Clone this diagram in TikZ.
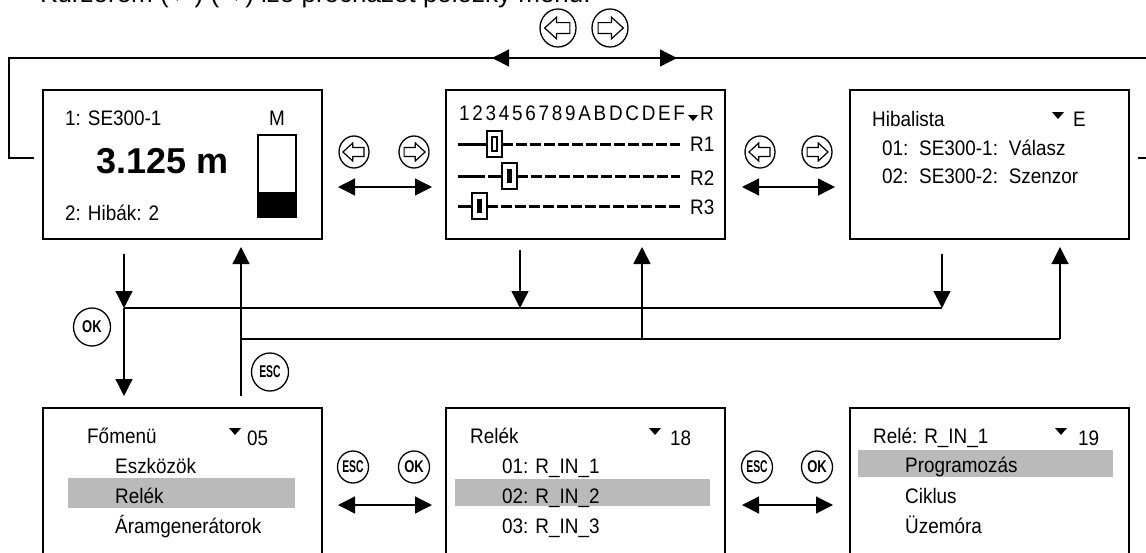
\documentclass[tikz,border=0pt]{standalone}
\usepackage{fontspec}
\setmainfont{Liberation Sans}[FakeStretch=0.9]
\newfontfamily\widesans{Liberation Sans}
\usepackage{graphicx}
\usetikzlibrary{arrows.meta,shapes.geometric}
\begin{document}
\begin{tikzpicture}[x=1pt,y=-1pt,
  screen/.style={draw, line width=2pt, inner sep=0, minimum width=279pt, minimum height=149pt, anchor=north west},
  conn/.style={line width=1.3pt},
  arr/.style={conn, -{Triangle[width=17pt,length=17pt]}},
  darr/.style={conn, {Triangle[width=17pt,length=17pt]}-{Triangle[width=17pt,length=17pt]}},
  txt/.style={anchor=base west, inner sep=0, font=\fontsize{21}{23}\selectfont},
  btn/.style={draw, ellipse, line width=1.3pt, minimum width=#1, minimum height=#1+1pt, inner sep=0, font=\fontsize{17}{17}\selectfont\bfseries},
  hl/.style={fill=black!27, draw=none},
  rail/.style={line width=3pt},
  knob/.style={line width=1.3pt, fill=white},
  pics/leftkey/.style={code={
    \draw[line width=1.3pt] (0,0) ellipse [x radius=#1, y radius=#1+1];
    \draw[line width=1.2pt, line join=miter] (-0.74*#1,0) -- (-0.08*#1,-0.6*#1) -- (-0.08*#1,-0.3*#1) -- (0.66*#1,-0.3*#1) -- (0.66*#1,0.3*#1) -- (-0.08*#1,0.3*#1) -- (-0.08*#1,0.6*#1) -- cycle;
  }},
  pics/rightkey/.style={code={
    \draw[line width=1.3pt] (0,0) ellipse [x radius=#1, y radius=#1+1];
    \draw[line width=1.2pt, line join=miter] (0.74*#1,0) -- (0.08*#1,-0.6*#1) -- (0.08*#1,-0.3*#1) -- (-0.66*#1,-0.3*#1) -- (-0.66*#1,0.3*#1) -- (0.08*#1,0.3*#1) -- (0.08*#1,0.6*#1) -- cycle;
  }}
]
\useasboundingbox (0,0) rectangle (1146,552);
\clip (0,0) rectangle (1146,552);

% clipped header line
\node[anchor=base west, inner sep=0, font=\widesans\fontsize{26}{28}\selectfont] (hdr) at (40,2) {Kurzorem (←) (→) lze procházet položky menu.};

% screens
\node[screen] (b1) at (42,89) {};
\node[screen] (b2) at (445,89) {};
\node[screen] (b3) at (849,89) {};
\node[screen, minimum height=170pt] (b4) at (42,407) {};
\node[screen, minimum height=170pt] (b5) at (445,407) {};
\node[screen, minimum height=170pt] (b6) at (849,407) {};

% ---- screen 1
\node[txt] (t11) at (65,125) {1: SE300-1};
\node[txt] (t12) at (269,125) {M};
\node[txt, font=\widesans\fontsize{36}{38}\selectfont\bfseries] (t13) at (96,173) {3.125 m};
\node[txt] (t14) at (65,220) {2: Hibák: 2};
\draw[line width=1.3pt] (258,135) rectangle (296,217);
\fill (258,192) rectangle (296,217);

% ---- screen 2
\node[txt, font=\fontsize{21}{23}\selectfont\addfontfeature{LetterSpace=13}] (t21) at (459,120) {123456789ABDCDEF};
\fill (688,115) -- (698,115) -- (693,121) -- cycle;
\node[txt] (t22) at (700,120) {R};
\node[txt] (r1) at (690,151) {R1};
\node[txt] (r2) at (690,185) {R2};
\node[txt] (r3) at (690,214) {R3};
% R1
\draw[rail] (458,144) -- (487,144);
\draw[rail, dash pattern=on 11pt off 3pt] (502,144) -- (680,144);
\draw[knob] (487,131) rectangle (502,157);
\draw[line width=1.1pt] (492,137) rectangle (497,151);
% R2
\draw[rail, dash pattern=on 27pt off 3pt] (458,176) -- (502,176);
\draw[rail, dash pattern=on 11pt off 3pt] (517,176) -- (680,176);
\draw[knob] (502,163) rectangle (517,189);
\fill (507,169) rectangle (512,183);
% R3
\draw[rail] (458,206) -- (472,206);
\draw[rail, dash pattern=on 11pt off 3pt] (487,206) -- (680,206);
\draw[knob] (472,193) rectangle (487,219);
\fill (477,199) rectangle (482,213);

% ---- screen 3
\node[txt] (t31) at (872,126) {Hibalista};
\fill (1052,112) -- (1064,112) -- (1058,119) -- cycle;
\node[txt] (t32) at (1073,126) {E};
\node[txt] (t33) at (882,155) {\spaceskip=9pt 01: SE300-1: Válasz};
\node[txt] (t34) at (882,183) {\spaceskip=9pt 02: SE300-2: Szenzor};

% ---- screen 4
\fill[hl] (68,478) rectangle (295,508);
\node[txt] (t41) at (87,443) {Főmenü};
\fill (229,428) -- (241,428) -- (235,435) -- cycle;
\node[txt] (t42) at (247,445) {05};
\node[txt] (t43) at (115,473) {Eszközök};
\node[txt] (t44) at (115,503) {Relék};
\node[txt] (t45) at (115,533) {Áramgenerátorok};

% ---- screen 5
\fill[hl] (455,479) rectangle (710,506);
\node[txt] (t51) at (470,443) {Relék};
\fill (649,428) -- (661,428) -- (655,435) -- cycle;
\node[txt] (t52) at (670,445) {18};
\node[txt] (t53) at (502,473) {01:\hspace{7pt}R\_IN\_1};
\node[txt] (t54) at (502,503) {02:\hspace{7pt}R\_IN\_2};
\node[txt] (t55) at (502,533) {03:\hspace{7pt}R\_IN\_3};

% ---- screen 6
\fill[hl] (858,450) rectangle (1113,477);
\node[txt] (t61) at (873,443) {Relé: R\_IN\_1};
\fill (1055,428) -- (1067,428) -- (1061,435) -- cycle;
\node[txt] (t62) at (1078,445) {19};
\node[txt] (t63) at (905,472) {Programozás};
\node[txt] (t64) at (905,503) {Ciklus};
\node[txt] (t65) at (905,533) {Üzemóra};

% ---- top loop
\coordinate (lpA) at (34,158);
\coordinate (lpB) at (9,158);
\coordinate (lpC) at (9,58);
\coordinate (lpD) at (1150,58);
\coordinate (lpE) at (1138,158);
\coordinate (lpF) at (1150,158);
\coordinate (taL) at (492,58);
\coordinate (taR) at (677,58);
\draw[conn] (lpA) -- (lpB) -- (lpC) -- (lpD);
\draw[conn] (lpE) -- (lpF);
\draw[darr] (taL) -- (taR);
\pic at (558,28) {leftkey=18};
\pic at (610,28) {rightkey=18};

% ---- horizontal navigation between top screens
\coordinate (n12a) at (338,187); \coordinate (n12b) at (432,187);
\draw[darr] (n12a) -- (n12b);
\pic at (354,152) {leftkey=15};
\pic at (414,152) {rightkey=15};
\coordinate (n23a) at (742,187); \coordinate (n23b) at (835,187);
\draw[darr] (n23a) -- (n23b);
\pic at (760,152) {leftkey=15};
\pic at (817,152) {rightkey=15};

% ---- bottom navigation
\coordinate (n45a) at (338,505); \coordinate (n45b) at (432,505);
\draw[darr] (n45a) -- (n45b);
\node[btn=31pt] (esc1) at (353,467) {\scalebox{0.68}[1]{ESC}};
\node[btn=31pt] (ok1) at (414,467) {\scalebox{0.85}[1]{OK}};
\coordinate (n56a) at (742,505); \coordinate (n56b) at (833,505);
\draw[darr] (n56a) -- (n56b);
\node[btn=31pt] (esc2) at (757,467) {\scalebox{0.68}[1]{ESC}};
\node[btn=31pt] (ok2) at (817,467) {\scalebox{0.85}[1]{OK}};

% ---- vertical OK / ESC network
\coordinate (ok0) at (124,254);
\coordinate (okA) at (124,308);
\coordinate (okB) at (124,396);
\coordinate (h1R) at (942,308);
\coordinate (d2a) at (520,250); \coordinate (d2b) at (520,308);
\coordinate (d3a) at (942,254);
\coordinate (esc0) at (241,396);
\coordinate (escA) at (241,247);
\coordinate (h2L) at (241,339);
\coordinate (h2R) at (1060,339);
\coordinate (u2a) at (642,339); \coordinate (u2b) at (642,247);
\coordinate (u3b) at (1060,247);

\draw[arr] (ok0) -- (okA);
\draw[arr] (okA) -- (okB);
\draw[conn] (okA) -- (h1R);
\draw[arr] (d2a) -- (d2b);
\draw[arr] (d3a) -- (h1R);
\draw[arr] (esc0) -- (escA);
\draw[conn] (h2L) -- (h2R);
\draw[arr, line width=1.8pt] (u2a) -- (u2b);
\draw[arr] (h2R) -- (u3b);
\node[btn=37pt] (okv) at (92,327) {\scalebox{0.85}[1]{OK}};
\node[btn=37pt] (escv) at (270,372) {\scalebox{0.68}[1]{ESC}};
\end{tikzpicture}
\end{document}
